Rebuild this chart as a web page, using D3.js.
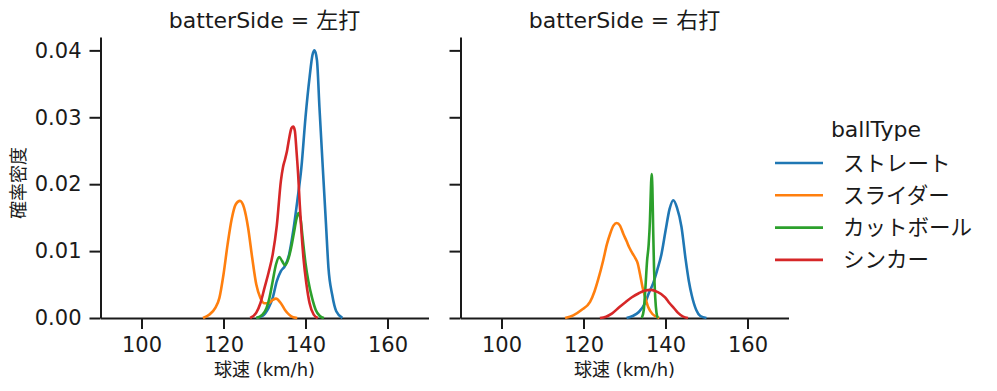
<!DOCTYPE html>
<html lang="ja">
<head>
<meta charset="utf-8">
<title>球速 KDE</title>
<script src="https://cdn.jsdelivr.net/npm/d3@7"></script>
<style>
    body {
        margin: 0;
        background: #fff;
    }
    text {
        font-family: "DejaVu Sans", "Noto Sans CJK JP", sans-serif;
        fill: #1a1a1a;
    }
    .domain, .tick line {
        stroke: #1a1a1a;
        stroke-width: 2px;
    }
    .kde {
        fill: none;
        stroke-width: 2.6px;
    }
</style>
</head>
<body>
<script>
    // ball types and colours
    let ballTypes = ["ストレート", "スライダー", "カットボール", "シンカー"];
    let colors = ["#1f77b4", "#ff7f0e", "#2ca02c", "#d62728"];
    let sides = ["左打", "右打"];

    let xTicks = [100, 120, 140, 160];
    let yTicks = [0, 0.01, 0.02, 0.03, 0.04];

    // density curves: [speed km/h, density]
    let leftStraight = [[128,0],[129.5,0.0003],[131,0.0015],[132,0.003],[133,0.0055],[134,0.007],[135,0.0078],[136,0.0095],[137,0.013],[138,0.0175],[139,0.0225],[140,0.03],[141,0.036],[141.7,0.0393],[142.2,0.04],[142.8,0.0385],[143.4,0.0315],[144.4,0.0205],[145,0.014],[145.6,0.0075],[146.5,0.0035],[147.5,0.001],[149,0]];
    let leftSlider = [[115,0],[116.5,0.0005],[118,0.0015],[119,0.003],[120,0.0065],[121,0.011],[122,0.0148],[123,0.017],[124,0.0175],[125,0.0165],[126,0.0135],[127,0.009],[128,0.005],[129,0.003],[130,0.0022],[131,0.0022],[132,0.0027],[132.8,0.0029],[134,0.0022],[135,0.0012],[136,0.0005],[137,0.0001],[138,0]];
    let leftCutter = [[128,0],[129.5,0.0005],[130.5,0.0015],[131.2,0.003],[132,0.0055],[132.8,0.008],[133.6,0.0091],[134.3,0.0085],[135,0.0079],[135.8,0.0088],[136.5,0.0105],[137.2,0.0128],[137.8,0.0148],[138.3,0.0157],[138.8,0.0148],[139.3,0.012],[140,0.0082],[140.7,0.0055],[141.6,0.003],[142.5,0.0012],[143.5,0.0003],[144.5,0]];
    let leftSinker = [[126.5,0],[128,0.0008],[129,0.0022],[130,0.0045],[131,0.0068],[132,0.0095],[133,0.0138],[134,0.0205],[134.5,0.0225],[135,0.0237],[135.5,0.025],[136,0.0268],[136.6,0.0284],[137,0.0286],[137.4,0.028],[137.8,0.025],[138.2,0.0215],[138.6,0.017],[139,0.013],[139.5,0.009],[140.2,0.0052],[141,0.0022],[142,0.0005],[143,0]];

    let rightStraight = [[130.5,0],[132,0.0003],[133.5,0.0009],[135,0.0022],[136,0.0038],[137,0.0052],[138,0.0072],[139,0.0095],[140,0.013],[141,0.0163],[141.9,0.0176],[142.8,0.0165],[143.9,0.0136],[144.9,0.0088],[145.7,0.0055],[146.4,0.0034],[147.5,0.0012],[148.5,0.0003],[150,0]];
    let rightSlider = [[115.5,0],[117.5,0.0004],[119.5,0.0012],[121.6,0.0024],[122.7,0.004],[123.6,0.0058],[124.8,0.0086],[125.7,0.011],[126.5,0.0126],[127.3,0.0138],[128.1,0.0142],[128.9,0.0138],[129.7,0.0126],[130.5,0.0115],[131.2,0.0105],[132,0.0096],[132.6,0.009],[133.2,0.0082],[133.8,0.0065],[134.4,0.0046],[135.1,0.003],[135.8,0.0016],[136.8,0.0006],[138.5,0]];
    let rightCutter = [[134.2,0],[134.7,0.0012],[135.1,0.0045],[135.5,0.0085],[135.9,0.011],[136.2,0.0145],[136.45,0.0195],[136.6,0.0215],[136.8,0.0195],[137.0,0.013],[137.2,0.0075],[137.5,0.003],[137.8,0.0008],[138.1,0]];
    let rightSinker = [[124,0],[125.5,0.0002],[127,0.0007],[128.7,0.0016],[130.3,0.0024],[131.8,0.0031],[133.5,0.0037],[135,0.0041],[136.5,0.0042],[138,0.0039],[139.9,0.0031],[141,0.0022],[141.9,0.0016],[143,0.0008],[144.3,0.0002],[145.5,0]];

    let curves = [
        [leftStraight, leftSlider, leftCutter, leftSinker],
        [rightStraight, rightSlider, rightCutter, rightSinker]
    ];

    let width = 997,
        height = 391;
    let panelLeft = [100.5, 460.5],
        panelWidth = 328,
        plotTop = 37,
        plotBottom = 318;

    let svg = d3.select("body").append("svg")
        .attr("width", width)
        .attr("height", height);

    let y = d3.scaleLinear()
        .domain([0, 0.042])
        .range([plotBottom, plotTop]);

    sides.forEach(function(side, i) {
        let x = d3.scaleLinear()
            .domain([90, 170])
            .range([panelLeft[i], panelLeft[i] + panelWidth]);

        let g = svg.append("g");

        // x axis
        let xAxis = g.append("g")
            .attr("transform", "translate(0," + plotBottom + ")")
            .call(d3.axisBottom(x).tickValues(xTicks).tickSize(11).tickPadding(8).tickSizeOuter(0));
        xAxis.selectAll("text").style("font-size", "21px");

        // y axis
        let yAxis = g.append("g")
            .attr("transform", "translate(" + panelLeft[i] + ",0)")
            .call(d3.axisLeft(y).tickValues(yTicks).tickSize(11).tickPadding(8).tickSizeOuter(0)
                .tickFormat(i === 0 ? d3.format(".2f") : ""));
        yAxis.selectAll("text").style("font-size", "21px");

        let line = d3.line()
            .x(function(d) { return x(d[0]); })
            .y(function(d) { return y(d[1]); })
            .curve(d3.curveMonotoneX);

        g.selectAll(".kde")
            .data(curves[i])
            .enter().append("path")
            .attr("class", "kde")
            .attr("d", line)
            .style("stroke", function(d, k) { return colors[k]; });

        g.append("text")
            .attr("x", panelLeft[i] + panelWidth / 2)
            .attr("y", 28)
            .attr("text-anchor", "middle")
            .style("font-size", "22px")
            .text("batterSide = " + side);

        g.append("text")
            .attr("x", panelLeft[i] + panelWidth / 2)
            .attr("y", 376)
            .attr("text-anchor", "middle")
            .style("font-size", "18px")
            .text("球速 (km/h)");
    });

    svg.append("text")
        .attr("transform", "translate(25,183) rotate(-90)")
        .attr("text-anchor", "middle")
        .style("font-size", "18px")
        .text("確率密度");

    // legend
    let legend = svg.append("g");
    legend.append("text")
        .attr("x", 876)
        .attr("y", 137)
        .attr("text-anchor", "middle")
        .style("font-size", "22px")
        .text("ballType");

    let items = legend.selectAll(".item")
        .data(ballTypes)
        .enter().append("g")
        .attr("transform", function(d, k) { return "translate(0," + (163 + k * 32.3) + ")"; });
    items.append("line")
        .attr("x1", 775)
        .attr("x2", 823)
        .style("stroke", function(d, k) { return colors[k]; })
        .style("stroke-width", "2.6px");
    items.append("text")
        .attr("x", 843)
        .attr("dy", "0.35em")
        .style("font-size", "21.5px")
        .text(function(d) { return d; });
</script>
</body>
</html>
